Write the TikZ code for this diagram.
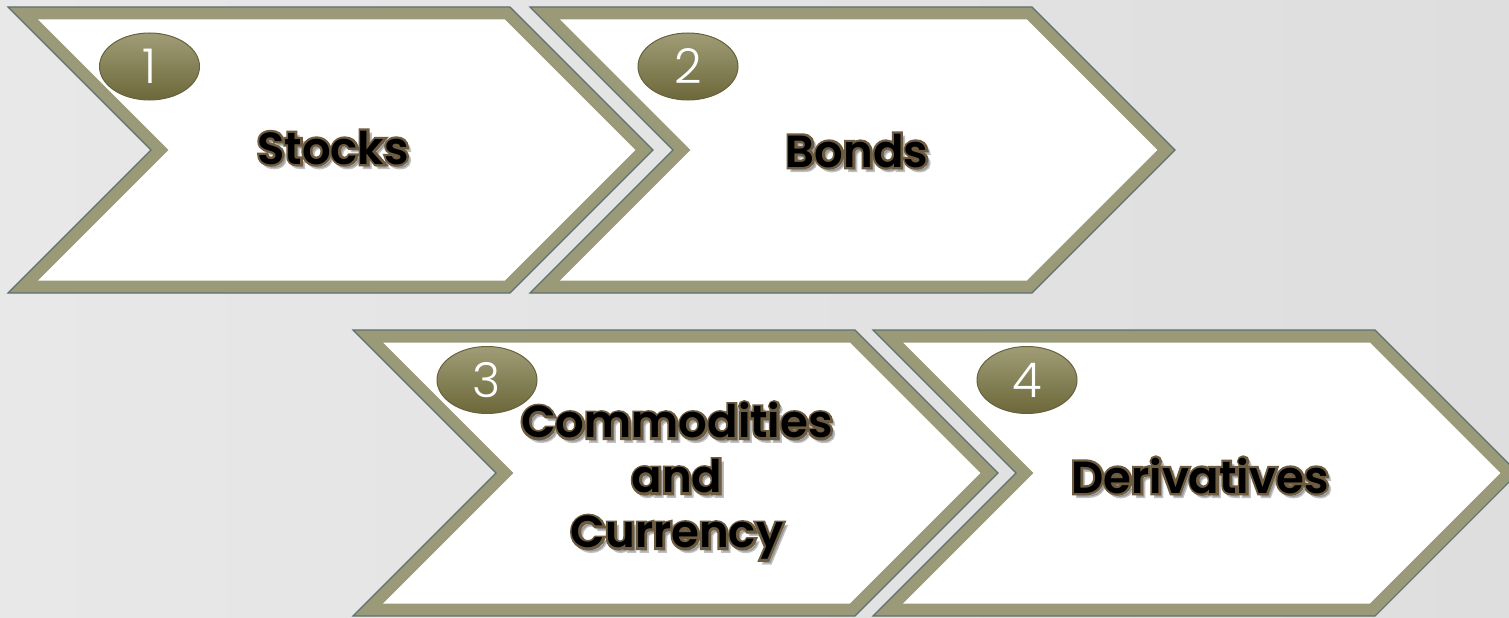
\documentclass[tikz,border=0pt]{standalone}
\usepackage{fontspec}
\IfFontExistsTF{Poppins SemiBold}
  {\setmainfont{Poppins}[BoldFont={Poppins SemiBold}]}
  {\setmainfont{Poppins}}
\IfFontExistsTF{Poppins Light}
  {\newfontfamily\digitfont{Poppins Light}}
  {\newfontfamily\digitfont{Poppins}}
\usetikzlibrary{shapes.geometric}

\definecolor{bgA}{HTML}{E8E8E8}
\definecolor{bgB}{HTML}{DEDEDE}
\definecolor{band}{HTML}{9A9A78}
\definecolor{edge}{HTML}{5E7070}
\definecolor{rim}{HTML}{6E5C40}
\definecolor{shade}{HTML}{505050}
\definecolor{pillTop}{HTML}{A09C76}
\definecolor{pillMid}{HTML}{807A4C}
\definecolor{pillBot}{HTML}{6C683A}
\definecolor{pillEdge}{HTML}{66623C}

% chevron with outer top-left corner at (#1,#2); top edge 502, half height 143
\newcommand\chevshape[2]{%
  \pgfmathsetmacro\cxa{#1}%
  \pgfmathsetmacro\cya{#2}%
  \pgfmathsetmacro\cxb{#1+502}%
  \pgfmathsetmacro\cym{#2+143}%
  \pgfmathsetmacro\cyb{#2+286}%
  \filldraw[fill=band,draw=edge,line width=1.1pt,line join=miter]
    (\cxa,\cya) -- (\cxb,\cya) -- (\cxb+143,\cym) -- (\cxb,\cyb)
    -- (\cxa,\cyb) -- (\cxa+143,\cym) -- cycle;
  \fill[white]
    (\cxa+30.2,\cya+12.5) -- (\cxb-5.2,\cya+12.5) -- (\cxb+125.3,\cym)
    -- (\cxb-5.2,\cyb-12.5) -- (\cxa+30.2,\cyb-12.5) -- (\cxa+160.7,\cym) -- cycle;
}

% bold label: soft shadow, stroked brown rim, black face
\newcommand\glowtext[5][]{%
  \node[lbl,#1,text=shade,opacity=.35,
    execute at begin node={\special{pdf:literal direct 2 Tr 3 w}},
    execute at end node={\special{pdf:literal direct 0 Tr}}] at (#3+3,#4+3.5) {#5};
  \node[lbl,#1,text=rim,
    execute at begin node={\special{pdf:literal direct 1 Tr 4.6 w}},
    execute at end node={\special{pdf:literal direct 0 Tr}}] at (#3,#4) {#5};
  \node[lbl,#1] (#2) at (#3,#4) {#5};
}

\tikzset{
  lbl/.style={font=\bfseries\fontsize{45}{55}\selectfont, text=black,
    inner sep=0pt, align=center},
  pill/.style={ellipse, minimum width=100pt, minimum height=67pt, inner sep=0pt,
    top color=pillTop, middle color=pillMid, bottom color=pillBot,
    draw=pillEdge, line width=1pt, text=white,
    font=\digitfont\fontsize{48}{48}\selectfont},
}

\begin{document}
\begin{tikzpicture}[x=1pt,y=-1pt]
  \useasboundingbox (0,0) rectangle (1509,618);
  \clip (0,0) rectangle (1509,618);
  \fill[left color=bgA, right color=bgB] (0,0) rectangle (1509,618);

  % upper row
  \chevshape{8}{7}
  \chevshape{530}{7}
  % lower row
  \chevshape{353}{330}
  \chevshape{873}{330}

  % step numbers
  \node[pill] (n1) at (149.5,66.5) {1};
  \node[pill] (n2) at (688,66.5) {2};
  \node[pill] (n3) at (487,380) {3};
  \node[pill] (n4) at (1027,380) {4};

  % captions
  \glowtext[anchor=base]{stocks}{333}{164}{Stocks}
  \glowtext[anchor=base]{bonds}{857}{167}{Bonds}
  \glowtext{commod}{677}{481}{Commodities\\and\\Currency}
  \glowtext[anchor=base]{deriv}{1200}{493}{Derivatives}
\end{tikzpicture}
\end{document}
